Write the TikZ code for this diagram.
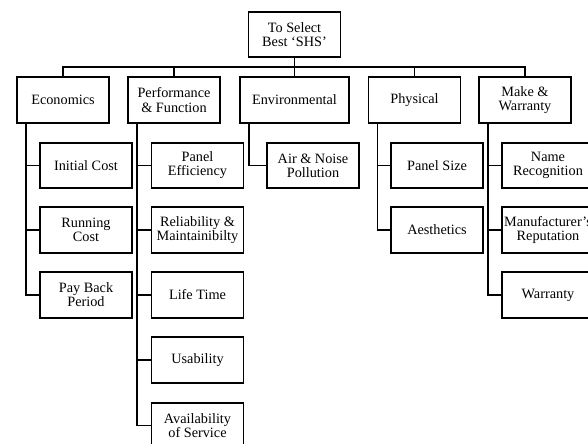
\documentclass[tikz,border=0pt]{standalone}
\usepackage{fontspec}
\setmainfont{Liberation Serif}

\tikzset{
  box/.style={draw, line width=1.2pt, align=center, inner sep=1pt,
    minimum width=62.6pt, minimum height=31pt,
    font=\fontsize{9.7}{9.6}\selectfont},
  wide/.style={box, minimum width=74pt},
  link/.style={line width=1.2pt}
}

\begin{document}
\begin{tikzpicture}[x=0.68pt, y=-0.68pt]
  % Frame of the picture
  \useasboundingbox (0,0) rectangle (588,443);
  \clip (0,0) rectangle (588,443);

  % Goal
  \node[box] (goal) at (294.5,34.5) {To Select\\Best ‘SHS’};

  % Criteria
  \node[box]  (eco)  at (63,100)    {Economics};
  \node[box]  (perf) at (174,100)   {Performance\\\& Function};
  \node[wide] (env)  at (294.5,100) {Environmental};
  \node[box]  (phys) at (414.5,100) {Physical};
  \node[box]  (make) at (525,100)   {Make \&\\Warranty};

  % Sub-criteria
  \node[box] (cost)  at (86,165.5) {Initial Cost};
  \node[box] (run)   at (86,230)   {Running\\Cost};
  \node[box] (pay)   at (86,295)   {Pay Back\\Period};

  \node[box] (eff)   at (197.5,165.5) {Panel\\Efficiency};
  \node[box] (rel)   at (197.5,230)   {Reliability \&\\Maintainibilty};
  \node[box] (life)  at (197.5,295)   {Life Time};
  \node[box] (use)   at (197.5,360)   {Usability};
  \node[box] (serv)  at (197.5,425.5) {Availability\\of Service};

  \node[box] (air)   at (313,165.5) {Air \& Noise\\Pollution};

  \node[box] (size)  at (437,165.5) {Panel Size};
  \node[box] (aes)   at (437,230)   {Aesthetics};

  \node[box] (name)  at (548,165.5) {Name\\Recognition};
  \node[box] (rep)   at (548,230)   {Manufacturer’s\\Reputation};
  \node[box] (warr)  at (548,295)   {Warranty};

  % Bus from the goal to the criteria
  \coordinate (bus) at (294.5,67);
  \foreach \c in {eco,perf,env,phys,make}
    \draw[link] (goal.south) |- (\c.north |- bus) -- (\c.north);

  % Trunks down to the sub-criteria
  \foreach \p/\c in {eco/cost,eco/run,eco/pay,
                     perf/eff,perf/rel,perf/life,perf/use,perf/serv,
                     env/air,phys/size,phys/aes,
                     make/name,make/rep,make/warr}
    \draw[link] ([xshift=6.8pt]\p.south west) |- (\c.west);
\end{tikzpicture}
\end{document}
